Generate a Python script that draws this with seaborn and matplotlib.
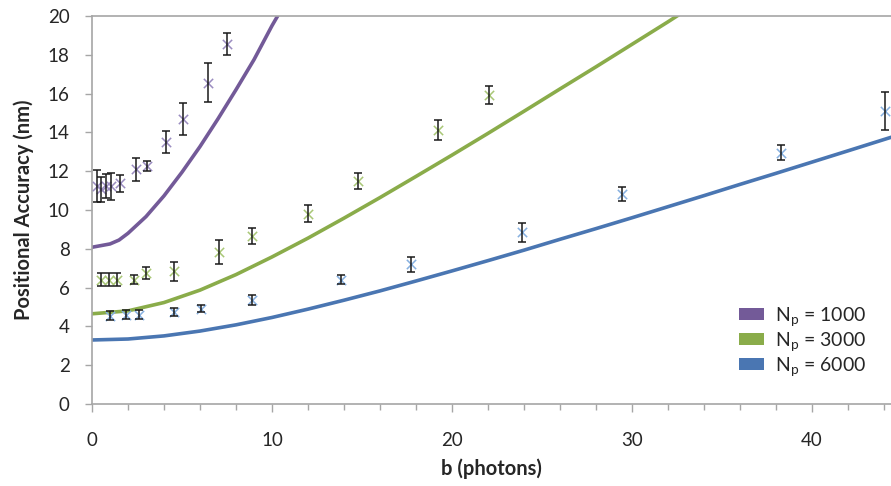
import matplotlib
matplotlib.use("Agg")
import matplotlib.pyplot as plt
import seaborn as sns
import pandas as pd
from matplotlib.patches import Patch
from matplotlib.ticker import MultipleLocator

# ---- data ----
series_labels = ["N$_\\mathregular{p}$ = 1000", "N$_\\mathregular{p}$ = 3000", "N$_\\mathregular{p}$ = 6000"]
line_colors = ["#735a98", "#8aac4a", "#4a76b2"]
marker_colors = ["#9a8cc0", "#a9c776", "#86b0e0"]

# theory curves
curve_b_1000 = [0, 1, 1.5, 2, 3, 4, 5, 6, 7, 8, 9, 10, 10.5, 11]
curve_s_1000 = [8.08, 8.25, 8.45, 8.80, 9.66, 10.73, 11.95, 13.27, 14.70, 16.20, 17.75, 19.50, 20.3, 21.0]
curve_b_3000 = [0, 2, 4, 6, 8, 10, 12, 14, 16, 18, 20, 22, 24, 26, 28, 30, 32, 33]
curve_s_3000 = [4.65, 4.80, 5.23, 5.87, 6.67, 7.58, 8.55, 9.58, 10.64, 11.73, 12.83, 13.95, 15.09,
                16.24, 17.38, 18.54, 19.70, 20.3]
curve_b_6000 = [0, 2, 4, 6, 8, 10, 12, 14, 16, 18, 20, 22, 24, 26, 28, 30, 32, 34, 36, 38, 40, 42, 44.4]
curve_s_6000 = [3.30, 3.35, 3.51, 3.76, 4.08, 4.46, 4.89, 5.35, 5.83, 6.34, 6.86, 7.39, 7.93, 8.49,
                9.04, 9.60, 10.17, 10.74, 11.32, 11.89, 12.47, 13.05, 13.75]

# measured points with error bars
meas_b_1000 = [0.28, 0.52, 0.79, 1.07, 1.57, 2.44, 3.04, 4.11, 5.04, 6.46, 7.48]
meas_s_1000 = [11.23, 11.06, 11.23, 11.23, 11.37, 12.10, 12.27, 13.50, 14.68, 16.57, 18.55]
meas_e_1000 = [0.82, 0.63, 0.60, 0.69, 0.42, 0.60, 0.25, 0.56, 0.83, 1.00, 0.58]

meas_b_3000 = [0.52, 0.94, 1.40, 2.33, 3.02, 4.56, 7.04, 8.90, 11.98, 14.80, 19.24, 22.07]
meas_s_3000 = [6.41, 6.41, 6.41, 6.41, 6.75, 6.84, 7.85, 8.65, 9.80, 11.49, 14.12, 15.92]
meas_e_3000 = [0.32, 0.35, 0.35, 0.22, 0.33, 0.50, 0.62, 0.42, 0.44, 0.42, 0.52, 0.45]

meas_b_6000 = [0.98, 1.87, 2.61, 4.56, 6.04, 8.90, 13.83, 17.72, 23.87, 29.43, 38.30, 44.06]
meas_s_6000 = [4.55, 4.60, 4.60, 4.74, 4.91, 5.34, 6.41, 7.20, 8.85, 10.84, 12.96, 15.10]
meas_e_6000 = [0.24, 0.24, 0.23, 0.21, 0.18, 0.26, 0.23, 0.40, 0.50, 0.36, 0.40, 1.00]

x_label = "b (photons)"
y_label = "Positional Accuracy (nm)"

# ---- build tables ----
curves = [(curve_b_1000, curve_s_1000), (curve_b_3000, curve_s_3000), (curve_b_6000, curve_s_6000)]
meas = [(meas_b_1000, meas_s_1000, meas_e_1000),
        (meas_b_3000, meas_s_3000, meas_e_3000),
        (meas_b_6000, meas_s_6000, meas_e_6000)]

sns.set_style("white")
plt.rcParams["font.family"] = ["Lato", "DejaVu Sans"]
plt.rcParams["mathtext.default"] = "regular"

fig = plt.figure(figsize=(8.91, 4.86), dpi=100)
ax = fig.add_axes([92 / 891, (486 - 404) / 486, (891 - 92) / 891, (404 - 16) / 486])

axis_gray = "#a6a6a6"

for i, (cb, cs) in enumerate(curves):
    df = pd.DataFrame({"b": cb, "s": cs})
    sns.lineplot(data=df, x="b", y="s", ax=ax, color=line_colors[i], lw=2.6,
                 sort=False, zorder=2)

for i, (mb, ms, me) in enumerate(meas):
    df = pd.DataFrame({"b": mb, "s": ms, "e": me})
    sns.scatterplot(data=df, x="b", y="s", ax=ax, marker="x", s=45, color=marker_colors[i],
                    linewidth=1.1, zorder=3)
    ax.errorbar(df["b"], df["s"], yerr=df["e"], fmt="none", ecolor="#1a1a1a",
                elinewidth=1.1, capsize=3, capthick=1.1, zorder=4)

ax.set_xlim(0, 44.39)
ax.set_ylim(0, 20)
ax.xaxis.set_major_locator(MultipleLocator(10))
ax.xaxis.set_minor_locator(MultipleLocator(2))
ax.yaxis.set_major_locator(MultipleLocator(2))

for side in ["left", "bottom", "top"]:
    ax.spines[side].set_color(axis_gray)
    ax.spines[side].set_linewidth(1.2)
ax.spines["right"].set_visible(False)

ax.tick_params(axis="x", which="major", direction="out", length=6, width=1, color=axis_gray,
               pad=14, labelsize=13.5, bottom=True)
ax.tick_params(axis="x", which="minor", direction="out", length=4, width=1, color=axis_gray,
               bottom=True)
ax.tick_params(axis="y", which="major", direction="out", length=5, width=1, color=axis_gray,
               pad=11, labelsize=13.5, left=True)

ax.set_xlabel(x_label, fontsize=14.5, fontweight="bold", labelpad=7)
ax.set_ylabel(y_label, fontsize=14.5, fontweight="bold", labelpad=10)

handles = [Patch(facecolor=line_colors[i], edgecolor="none") for i in range(3)]
ax.legend(handles, series_labels, loc="lower right", bbox_to_anchor=(866 / 891, 1 - 378 / 486),
          bbox_transform=fig.transFigure, frameon=False, fontsize=14, handlelength=1.3,
          handleheight=0.55, handletextpad=0.55, labelspacing=0.12, borderaxespad=0, borderpad=0)

fig.savefig("out.png", dpi=100)
